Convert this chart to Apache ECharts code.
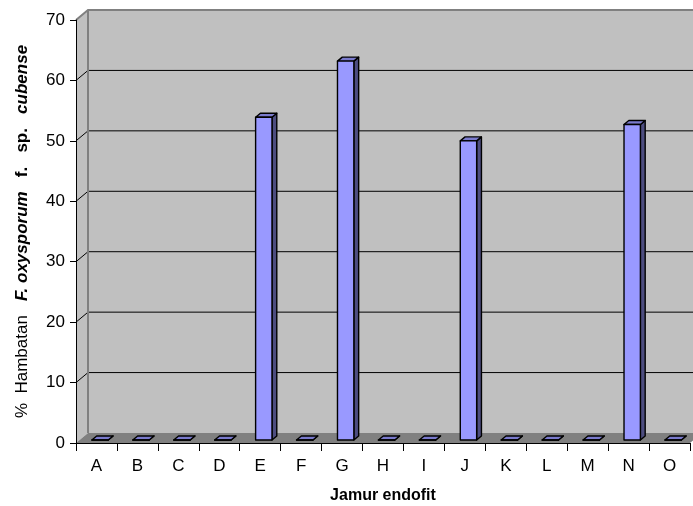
<!DOCTYPE html>
<html>
<head>
<meta charset="utf-8">
<script src="https://cdn.jsdelivr.net/npm/echarts@6/dist/echarts.min.js"></script>
<style>
  html, body { margin: 0; padding: 0; background: #fff; }
  #chart { width: 693px; height: 506px; }
</style>
</head>
<body>
<div id="chart"></div>
<script>
// Endophytic fungus isolates
const categories = ['A', 'B', 'C', 'D', 'E', 'F', 'G', 'H', 'I', 'J', 'K', 'L', 'M', 'N', 'O'];
// Inhibition of F. oxysporum f. sp. cubense (%)
const inhibition = [0, 0, 0, 0, 53.4, 0, 62.7, 0, 0, 49.5, 0, 0, 0, 52.2, 0];
// Value axis ticks
const yMin = 0;
const yMax = 70;
const yStep = 10;

const FONT = 'Arial, "Liberation Sans", sans-serif';
// 3D depth of the plot box (px)
const DX = 12;
const DY = 10;

function renderWalls(params, api) {
  const cs = params.coordSys;
  const x0 = cs.x, x1 = cs.x + cs.width;
  const yt = cs.y, yb = cs.y + cs.height;
  const children = [];
  // back wall
  children.push({ type: 'rect', shape: { x: x0 + DX, y: yt - DY, width: cs.width, height: cs.height },
    style: { fill: '#c0c0c0' } });
  // side wall
  children.push({ type: 'polygon', shape: { points: [[x0, yb], [x0 + DX, yb - DY], [x0 + DX, yt - DY], [x0, yt]] },
    style: { fill: '#c0c0c0' } });
  // floor
  children.push({ type: 'polygon', shape: { points: [[x0, yb], [x1, yb], [x1 + DX, yb - DY], [x0 + DX, yb - DY]] },
    style: { fill: '#808080' } });
  // gridlines on back and side walls
  for (let v = yMin + yStep; v < yMax; v += yStep) {
    const y = api.coord([0, v])[1];
    children.push({ type: 'polyline', shape: { points: [[x0, y], [x0 + DX, y - DY], [x1 + DX, y - DY]] },
      style: { stroke: '#000', lineWidth: 1, fill: null } });
  }
  // wall edges
  children.push({ type: 'line', shape: { x1: x0 + DX, y1: yt - DY, x2: x0 + DX, y2: yb - DY },
    style: { stroke: '#808080', lineWidth: 2 } });
  children.push({ type: 'polyline', shape: { points: [[x0, yt], [x0 + DX, yt - DY], [x1 + DX, yt - DY]] },
    style: { stroke: '#808080', lineWidth: 2, fill: null } });
  return { type: 'group', children: children };
}

function renderBar(params, api) {
  const idx = api.value(0);
  const val = api.value(1);
  const base = api.coord([idx, 0]);
  const top = api.coord([idx, val]);
  const band = api.size([1, 0])[0];
  const w = band * 0.4;
  const f0 = 0.3, f1 = 0.7;
  const fx = base[0] - w / 2 + f0 * DX;
  const fyb = base[1] - f0 * DY;
  const fyt = top[1] - f0 * DY;
  const bx = (f1 - f0) * DX, by = (f1 - f0) * DY;
  const stroke = { stroke: '#000', lineWidth: 1.4, lineJoin: 'round' };
  return {
    type: 'group',
    children: [
      { type: 'polygon', shape: { points: [[fx + w, fyb], [fx + w + bx, fyb - by], [fx + w + bx, fyt - by], [fx + w, fyt]] },
        style: Object.assign({ fill: '#4d4d80' }, stroke) },
      { type: 'polygon', shape: { points: [[fx, fyt], [fx + w, fyt], [fx + w + bx, fyt - by], [fx + bx, fyt - by]] },
        style: Object.assign({ fill: '#7a7acc' }, stroke) },
      { type: 'rect', shape: { x: fx, y: fyt, width: w, height: fyb - fyt },
        style: Object.assign({ fill: '#9999ff' }, stroke) }
    ]
  };
}

const chart = echarts.init(document.getElementById('chart'), null, { renderer: 'canvas' });
chart.setOption({
  animation: false,
  backgroundColor: '#ffffff',
  grid: { left: 76, right: 3, top: 20, bottom: 63, containLabel: false, outerBoundsMode: 'none' },
  xAxis: {
    type: 'category',
    data: categories,
    boundaryGap: true,
    z: 5,
    axisLine: { show: true, lineStyle: { color: '#000', width: 1 } },
    axisTick: { show: true, length: 8, lineStyle: { color: '#000' } },
    axisLabel: { color: '#000', fontSize: 17, fontFamily: FONT, margin: 15 },
    splitLine: { show: false },
    name: 'Jamur endofit',
    nameLocation: 'middle',
    nameGap: 45,
    nameTextStyle: { color: '#000', fontSize: 16, fontWeight: 'bold', fontFamily: FONT }
  },
  yAxis: {
    type: 'value',
    min: yMin,
    max: yMax,
    interval: yStep,
    z: 5,
    axisLine: { show: true, lineStyle: { color: '#000', width: 1 } },
    axisTick: { show: true, length: 6, lineStyle: { color: '#000' } },
    axisLabel: { color: '#000', fontSize: 17, fontFamily: FONT, margin: 11 },
    splitLine: { show: false },
    name: '{n|%  Hambatan   }{bi|F. oxysporum}{b|   f.   sp.   }{bi|cubense}',
    nameLocation: 'middle',
    nameRotate: 90,
    nameGap: 45,
    nameTextStyle: {
      color: '#000', fontSize: 17, fontFamily: FONT,
      rich: {
        n: { color: '#000', fontSize: 17, fontFamily: FONT },
        b: { color: '#000', fontSize: 17, fontFamily: FONT, fontWeight: 'bold' },
        bi: { color: '#000', fontSize: 17, fontFamily: FONT, fontWeight: 'bold', fontStyle: 'italic' }
      }
    }
  },
  series: [
    {
      type: 'custom',
      name: 'walls',
      z: 1,
      clip: false,
      silent: true,
      renderItem: renderWalls,
      data: [[0, 0]]
    },
    {
      type: 'custom',
      name: '% Hambatan',
      z: 6,
      clip: false,
      renderItem: renderBar,
      encode: { x: 0, y: 1 },
      data: inhibition.map((v, i) => [i, v])
    }
  ]
});
</script>
</body>
</html>
